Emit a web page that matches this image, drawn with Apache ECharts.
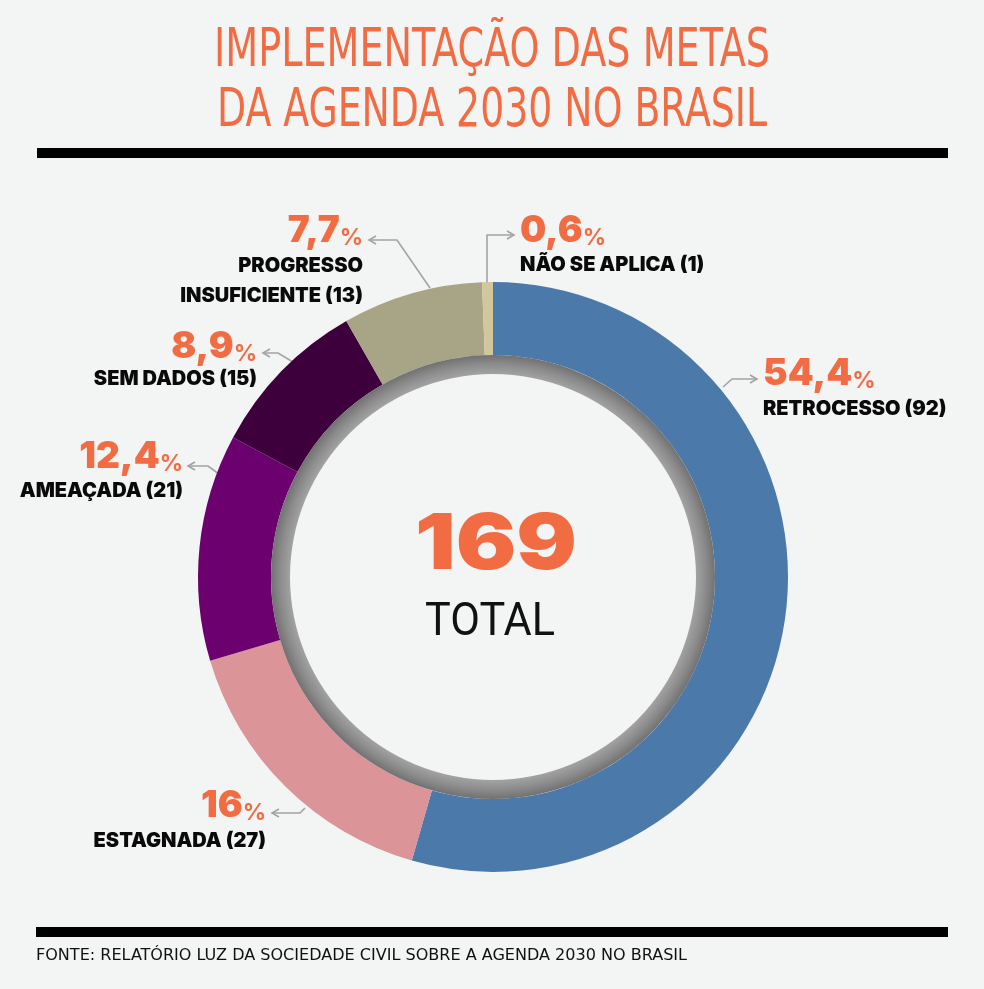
<!DOCTYPE html>
<html><head><meta charset="utf-8">
<script src="https://cdn.jsdelivr.net/npm/echarts@6/dist/echarts.min.js"></script>
<style>html,body{margin:0;padding:0;background:#f3f4f4}#c{width:984px;height:989px}</style>
</head><body><div id="c"></div>
<script>
// ---- data ----
const categories = ['RETROCESSO', 'ESTAGNADA', 'AMEAÇADA', 'SEM DADOS', 'PROGRESSO\nINSUFICIENTE', 'NÃO SE APLICA'];
const counts = [92, 27, 21, 15, 13, 1];
const pctLabels = ['54,4', '16', '12,4', '8,9', '7,7', '0,6'];
const totalValue = 169;
const totalLabel = 'TOTAL';
const titleLines = ['IMPLEMENTAÇÃO DAS METAS', 'DA AGENDA 2030 NO BRASIL'];
const sourceText = 'FONTE: RELATÓRIO LUZ DA SOCIEDADE CIVIL SOBRE A AGENDA 2030 NO BRASIL';

// ---- styles / layout ----
const sliceColors = ['#4b7aaa', '#db9498', '#6d006f', '#3d003d', '#a8a486', '#d0c89b'];
const ORANGE = '#f26c43';
const CX = 493, CY = 577, R_OUT = 295, R_IN = 222, R_GRAY = 203;
const labelLayout = [
  { align: 'left',  x: 763, pctY: 374, nameY: 409, arrow: [[723, 387], [732, 379], [757, 379]] },
  { align: 'right', x: 266, pctY: 806, nameY: 841, arrow: [[305, 808], [300, 813], [272, 813]] },
  { align: 'right', x: 183, pctY: 457, nameY: 491, arrow: [[219, 474], [208, 466], [188, 466]] },
  { align: 'right', x: 257, pctY: 347, nameY: 379, arrow: [[293, 362], [278, 353], [263, 353]] },
  { align: 'right', x: 363, pctY: 231, nameY: 266, arrow: [[430, 288], [397, 240], [369, 240]] },
  { align: 'left',  x: 520, pctY: 231, nameY: 265, arrow: [[487, 283], [487, 235], [514, 235]] }
];

const measureCtx = document.createElement('canvas').getContext('2d');
function fitScale(text, font, target) {
  measureCtx.font = font;
  const w = measureCtx.measureText(text).width;
  return w > 0 ? target / w : 1;
}

const chart = echarts.init(document.getElementById('c'), null, { renderer: 'canvas' });

const graphics = [];
// title
const TITLE_FONT = "'Liberation Sans Narrow', 'DejaVu Sans Condensed', 'Roboto', sans-serif";
[[titleLines[0], 52, 556], [titleLines[1], 112, 550]].forEach(([t, y, w]) => {
  const sx = fitScale(t, '400 53px ' + TITLE_FONT, w);
  graphics.push({
    type: 'text', x: 492, y: y, scaleX: sx, silent: true,
    style: { text: t, fill: ORANGE, fontSize: 53, fontFamily: TITLE_FONT, fontWeight: 400,
      align: 'center', verticalAlign: 'middle', textAlign: 'center', textVerticalAlign: 'middle' }
  });
});
// rules
graphics.push({ type: 'rect', silent: true, shape: { x: 37, y: 148, width: 911, height: 10 }, style: { fill: '#000' } });
graphics.push({ type: 'rect', silent: true, shape: { x: 36, y: 927, width: 912, height: 10 }, style: { fill: '#000' } });
// source
{
  const sx = fitScale(sourceText, '400 16px ' + TITLE_FONT, 651);
  graphics.push({
    type: 'text', x: 36, y: 955.5, scaleX: sx, silent: true,
    style: { text: sourceText, fill: '#111', fontSize: 16, fontFamily: TITLE_FONT,
      align: 'left', verticalAlign: 'middle', textAlign: 'left', textVerticalAlign: 'middle' }
  });
}
// center
{
  const t = String(totalValue);
  const sx = fitScale(t, '900 77px Inter', 162);
  graphics.push({
    type: 'text', x: 496, y: 546, scaleX: sx, silent: true,
    style: { text: t, fill: ORANGE, fontSize: 77, fontFamily: 'Inter', fontWeight: 900,
      align: 'center', verticalAlign: 'middle', textAlign: 'center', textVerticalAlign: 'middle' }
  });
  const sx2 = fitScale(totalLabel, '400 46px Roboto', 130);
  graphics.push({
    type: 'text', x: 490, y: 623.5, scaleX: sx2, silent: true,
    style: { text: totalLabel, fill: '#111', fontSize: 46, fontFamily: 'Roboto', fontWeight: 400,
      align: 'center', verticalAlign: 'middle', textAlign: 'center', textVerticalAlign: 'middle' }
  });
}
// annotations
categories.forEach((name, i) => {
  const L = labelLayout[i];
  graphics.push({
    type: 'text', x: L.x, y: L.pctY, silent: true,
    style: {
      text: '{p|' + pctLabels[i] + '}{s|%}',
      align: L.align, verticalAlign: 'middle', textAlign: L.align, textVerticalAlign: 'middle',
      rich: {
        p: { fontSize: 37, fontFamily: 'Inter', fontWeight: 900, fill: ORANGE, color: ORANGE, lineHeight: 37, verticalAlign: 'bottom' },
        s: { fontSize: 23, fontFamily: 'Inter', fontWeight: 700, fill: ORANGE, color: ORANGE, lineHeight: 27, verticalAlign: 'bottom' }
      }
    }
  });
  const lines = name.split('\n');
  lines[lines.length - 1] += ' (' + counts[i] + ')';
  lines.forEach((ln, k) => {
    graphics.push({
      type: 'text', x: L.x, y: L.nameY + k * 30, silent: true,
      style: { text: ln, fill: '#0a0a0a', fontSize: 20, fontFamily: 'Inter', fontWeight: 900,
        align: L.align, verticalAlign: 'middle', textAlign: L.align, textVerticalAlign: 'middle' }
    });
  });
  const pts = L.arrow;
  graphics.push({ type: 'polyline', silent: true, shape: { points: pts },
    style: { stroke: '#a3a3a3', lineWidth: 1.6, fill: null } });
  const T = pts[pts.length - 1], P = pts[pts.length - 2];
  const dx = T[0] - P[0], dy = T[1] - P[1], len = Math.hypot(dx, dy);
  const ux = dx / len, uy = dy / len;
  const A = [T[0] - 7 * ux + 4 * uy, T[1] - 7 * uy - 4 * ux];
  const B = [T[0] - 7 * ux - 4 * uy, T[1] - 7 * uy + 4 * ux];
  graphics.push({ type: 'polyline', silent: true, shape: { points: [A, T, B] },
    style: { stroke: '#a3a3a3', lineWidth: 1.6, fill: null } });
});

chart.setOption({
  backgroundColor: '#f3f4f4',
  animation: false,
  series: [
    {
      type: 'pie', silent: true, center: [CX, CY], radius: [R_IN, R_OUT],
      startAngle: 90, clockwise: true, label: { show: false }, labelLine: { show: false },
      itemStyle: { borderWidth: 0 },
      emphasis: { disabled: true },
      data: categories.map((c, i) => ({ name: c, value: counts[i], itemStyle: { color: sliceColors[i] } }))
    },
    {
      type: 'pie', silent: true, center: [CX, CY], radius: [R_GRAY, R_IN],
      label: { show: false }, labelLine: { show: false }, emphasis: { disabled: true },
      data: [{ value: totalValue, name: 'ring', itemStyle: { color: new echarts.graphic.RadialGradient(0.5, 0.5, 0.5, [
        { offset: R_GRAY / R_IN, color: '#a2a2a2' },
        { offset: 0.96, color: '#8b8b8b' },
        { offset: 1, color: '#717171' }
      ]) } }]
    }
  ],
  graphic: { elements: graphics }
});
</script>
</body></html>
